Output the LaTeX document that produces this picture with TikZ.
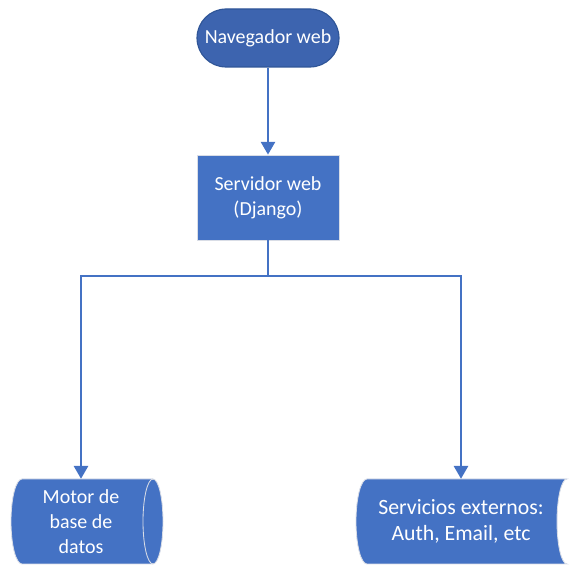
\documentclass[tikz,border=0pt]{standalone}
\usepackage{fontspec}
\setmainfont{Carlito}
\usepackage{tikz}
\usetikzlibrary{arrows.meta}

\definecolor{boxblue}{HTML}{4472C4}
\definecolor{pillblue}{HTML}{3D64AF}
\definecolor{pillrim}{HTML}{2F5597}
\definecolor{rimgray}{HTML}{D9DDE6}

\begin{document}
\begin{tikzpicture}[
        font=\fontsize{14.2}{17.6}\selectfont,
        box/.style={fill=boxblue, draw=rimgray, line width=0.6pt, text=white,
            align=center, minimum width=3.55cm, minimum height=2.125cm},
        pill/.style={fill=pillblue, draw=pillrim, line width=0.8pt, text=white,
            rounded corners=0.725cm, minimum width=3.55cm, minimum height=1.45cm},
        label/.style={text=white, align=center, minimum height=2.125cm},
        link/.style={draw=boxblue, line width=1.1pt, -{Triangle[width=0.36cm, length=0.32cm]}}
    ]
        \useasboundingbox (0, 0) rectangle (14.45, 14.425);
        % shapes at the bottom
        \filldraw[fill=boxblue, draw=rimgray, line width=0.6pt]
            (0.55, 0.325) arc[start angle=270, end angle=90, x radius=0.275, y radius=1.0625]
            -- (3.825, 2.45) arc[start angle=90, end angle=-90, x radius=0.25, y radius=1.0625]
            -- cycle;
        \draw[rimgray, line width=0.6pt] (3.825, 2.45)
            arc[start angle=90, end angle=270, x radius=0.25, y radius=1.0625];
        \filldraw[fill=boxblue, draw=rimgray, line width=0.6pt]
            (9.175, 0.325) arc[start angle=270, end angle=90, x radius=0.275, y radius=1.0625]
            -- (14.175, 2.45) arc[start angle=90, end angle=270, x radius=0.25, y radius=1.0625]
            -- cycle;
        \node[pill] (nav) at (6.7, 13.475) {Navegador web};
        \node[box] (srv) at (6.7, 9.4875) {Servidor web\\(Django)};
        \node[label] (db) at (2.025, 1.3875) {Motor de\\base de\\datos};
        \node[label, font=\fontsize{15.5}{18.6}\selectfont] (ext) at (11.525, 1.3875)
            {Servicios externos:\\Auth, Email, etc};
        \coordinate (split) at (6.7, 7.525);
        \draw[link] (nav) -- (srv);
        \draw[link] (srv.south) -- (split) -| (db.north);
        \draw[link] (split) -| (ext.north);
    \end{tikzpicture}
\end{document}
